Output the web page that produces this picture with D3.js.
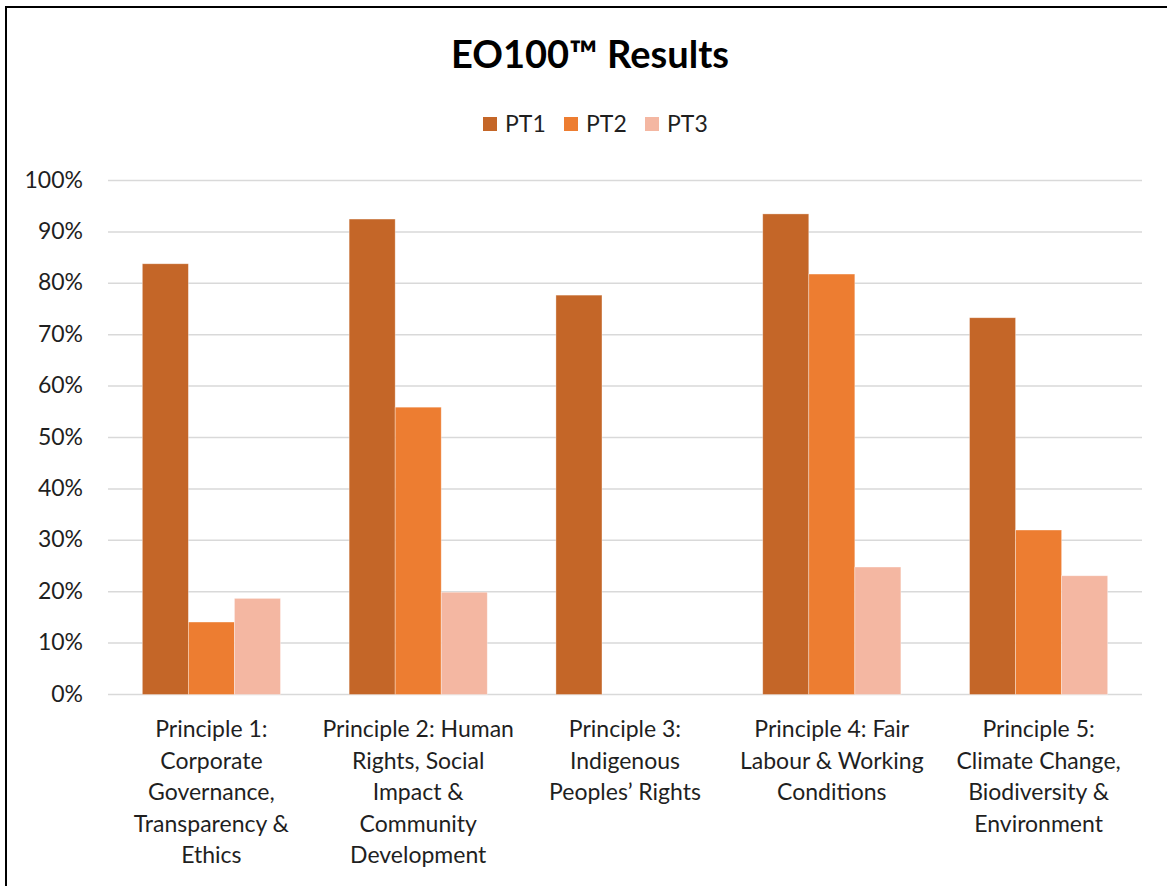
<!DOCTYPE html>
<html>
<head>
    <title>EO100 Results</title>
    <script src="https://d3js.org/d3.v7.min.js"></script>
    <style>
        body {
            margin: 0;
            background-color: white;
            font-family: Lato, "Open Sans", sans-serif;
        }
        .tick-label, .cat-label, .legend-label {
            fill: #1f1f1f;
            font-size: 23px;
        }
        .title {
            font-size: 38px;
            font-weight: bold;
            fill: #000;
        }
    </style>
</head>
<body>
    <div id="chart"></div>
    <script>
        // Chart data
        const categories = ['Principle 1', 'Principle 2', 'Principle 3', 'Principle 4', 'Principle 5'];
        const categoryLines = [
            ['Principle 1:', 'Corporate', 'Governance,', 'Transparency &', 'Ethics'],
            ['Principle 2: Human', 'Rights, Social', 'Impact &', 'Community', 'Development'],
            ['Principle 3:', 'Indigenous', 'Peoples\u2019 Rights'],
            ['Principle 4: Fair', 'Labour & Working', 'Conditions'],
            ['Principle 5:', 'Climate Change,', 'Biodiversity &', 'Environment']
        ];
        const seriesNames = ['PT1', 'PT2', 'PT3'];
        const pt1 = [0.838, 0.925, 0.777, 0.935, 0.733];
        const pt2 = [0.141, 0.559, 0, 0.818, 0.320];
        const pt3 = [0.187, 0.199, 0, 0.248, 0.231];
        const yTicks = [0, 0.1, 0.2, 0.3, 0.4, 0.5, 0.6, 0.7, 0.8, 0.9, 1.0];
        const colors = ['#C46628', '#ED7D31', '#F4B7A2'];

        const width = 1167;
        const height = 886;
        const margin = { left: 108, right: 25, top: 180.5, bottom: 191.5 };

        const svg = d3.select('#chart')
            .append('svg')
            .attr('width', width)
            .attr('height', height);

        // Outer frame (only top and left visible in the crop)
        svg.append('rect')
            .attr('x', 6)
            .attr('y', 7)
            .attr('width', 1300)
            .attr('height', 1000)
            .attr('fill', 'none')
            .attr('stroke', '#000')
            .attr('stroke-width', 2);

        const x0 = d3.scaleBand()
            .domain(categories)
            .range([margin.left, width - margin.right])
            .paddingInner(0.332)
            .paddingOuter(0.166);

        const x1 = d3.scaleBand()
            .domain(seriesNames)
            .range([0, x0.bandwidth()]);

        const y = d3.scaleLinear()
            .domain([0, 1])
            .range([height - margin.bottom, margin.top]);

        // Gridlines
        svg.append('g')
            .selectAll('line')
            .data(yTicks)
            .enter()
            .append('line')
            .attr('x1', margin.left)
            .attr('x2', width - margin.right)
            .attr('y1', d => y(d))
            .attr('y2', d => y(d))
            .attr('stroke', '#D9D9D9')
            .attr('stroke-width', 1.5);

        // Y tick labels
        svg.append('g')
            .selectAll('text')
            .data(yTicks)
            .enter()
            .append('text')
            .attr('class', 'tick-label')
            .attr('x', 83)
            .attr('y', d => y(d) + 7)
            .attr('text-anchor', 'end')
            .text(d => d3.format('.0%')(d));

        // Bars
        const series = [pt1, pt2, pt3];
        const barData = [];
        categories.forEach((c, i) => {
            seriesNames.forEach((s, j) => {
                barData.push({ cat: c, name: s, value: series[j][i], color: colors[j] });
            });
        });

        svg.append('g')
            .selectAll('rect')
            .data(barData.filter(d => d.value > 0))
            .enter()
            .append('rect')
            .attr('x', d => x0(d.cat) + x1(d.name))
            .attr('y', d => y(d.value))
            .attr('width', x1.bandwidth())
            .attr('height', d => y(0) - y(d.value))
            .attr('fill', d => d.color)
            .attr('stroke', '#fff')
            .attr('stroke-opacity', 0.45)
            .attr('stroke-width', 0.75);

        // Category labels
        const catLabel = svg.append('g')
            .selectAll('text')
            .data(categories)
            .enter()
            .append('text')
            .attr('class', 'cat-label')
            .attr('text-anchor', 'middle')
            .attr('x', d => x0(d) + x0.bandwidth() / 2)
            .attr('y', 737);

        catLabel.selectAll('tspan')
            .data((d, i) => categoryLines[i])
            .enter()
            .append('tspan')
            .attr('x', function() { return d3.select(this.parentNode).attr('x'); })
            .attr('dy', (d, i) => i === 0 ? 0 : 31.6)
            .text(d => d);

        // Title
        svg.append('text')
            .attr('class', 'title')
            .attr('x', 590)
            .attr('y', 68)
            .attr('text-anchor', 'middle')
            .text('EO100\u2122 Results');

        // Legend
        const legend = svg.append('g')
            .selectAll('g')
            .data(seriesNames)
            .enter()
            .append('g')
            .attr('transform', (d, i) => `translate(${483 + i * 81}, 0)`);

        legend.append('rect')
            .attr('x', 0)
            .attr('y', 117)
            .attr('width', 14)
            .attr('height', 14)
            .attr('fill', (d, i) => colors[i]);

        legend.append('text')
            .attr('class', 'legend-label')
            .attr('x', 22)
            .attr('y', 132)
            .text(d => d);
    </script>
</body>
</html>
